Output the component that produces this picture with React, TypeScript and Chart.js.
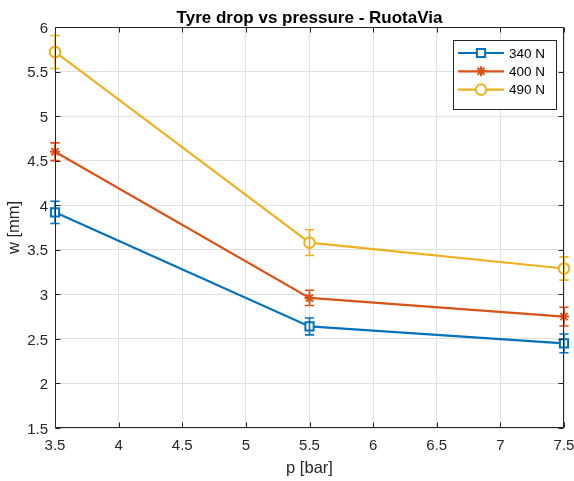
import { useEffect, useRef } from 'react';
import { Chart, registerables } from 'chart.js';

Chart.register(...registerables);

// Tyre drop measurements (mm) per inflation pressure (bar), one series per load
const pressures = [3.5, 5.5, 7.5];
const loadLabels = ['340 N', '400 N', '490 N'];
const drop340 = [3.92, 2.64, 2.45];
const drop400 = [4.6, 2.96, 2.75];
const drop490 = [5.72, 3.58, 3.29];
const err340 = [0.125, 0.095, 0.105];
const err400 = [0.1, 0.085, 0.105];
const err490 = [0.185, 0.145, 0.13];
const xTicks = [3.5, 4, 4.5, 5, 5.5, 6, 6.5, 7, 7.5];
const yTicks = [1.5, 2, 2.5, 3, 3.5, 4, 4.5, 5, 5.5, 6];

const titleText = 'Tyre drop vs pressure - RuotaVia';
const xLabel = 'p [bar]';
const yLabel = 'w [mm]';

const seriesValues = [drop340, drop400, drop490];
const seriesErrors = [err340, err400, err490];
const colors = ['#0072BD', '#D95319', '#EDB120'];
const markers = ['rect', 'star', 'circle'];
const markerRadius = [5.8, 5, 5.3];

const FONT = '"Liberation Sans", Arial, Helvetica, sans-serif';
const INK = '#262626';

function drawMarker(ctx: CanvasRenderingContext2D, style: string, x: number, y: number, r: number, color: string) {
  ctx.save();
  ctx.strokeStyle = color;
  ctx.fillStyle = '#ffffff';
  ctx.lineWidth = 2;
  ctx.beginPath();
  if (style === 'rect') {
    const s = Math.SQRT1_2 * r;
    ctx.rect(x - s, y - s, 2 * s, 2 * s);
    ctx.fill();
    ctx.stroke();
  } else if (style === 'circle') {
    ctx.arc(x, y, r, 0, Math.PI * 2);
    ctx.fill();
    ctx.stroke();
  } else {
    for (let k = 0; k < 4; k++) {
      const a = (k * Math.PI) / 4;
      ctx.moveTo(x - Math.cos(a) * r, y - Math.sin(a) * r);
      ctx.lineTo(x + Math.cos(a) * r, y + Math.sin(a) * r);
    }
    ctx.stroke();
  }
  ctx.restore();
}

const errorBarPlugin = {
  id: 'errorBars',
  afterDatasetsDraw(chart: any) {
    const { ctx } = chart;
    const xs = chart.scales.x;
    const ys = chart.scales.y;
    ctx.save();
    ctx.lineWidth = 1.6;
    seriesValues.forEach((vals, i) => {
      ctx.strokeStyle = colors[i];
      vals.forEach((v, j) => {
        const x = xs.getPixelForValue(pressures[j]);
        const yTop = ys.getPixelForValue(v + seriesErrors[i][j]);
        const yBot = ys.getPixelForValue(v - seriesErrors[i][j]);
        const cap = 4.6;
        ctx.beginPath();
        ctx.moveTo(x, yTop);
        ctx.lineTo(x, yBot);
        ctx.moveTo(x - cap, yTop);
        ctx.lineTo(x + cap, yTop);
        ctx.moveTo(x - cap, yBot);
        ctx.lineTo(x + cap, yBot);
        ctx.stroke();
      });
    });
    ctx.restore();
  },
};

const framePlugin = {
  id: 'frame',
  afterDraw(chart: any) {
    const { ctx, chartArea } = chart;
    const { left, right, top, bottom } = chartArea;
    const xs = chart.scales.x;
    const ys = chart.scales.y;
    ctx.save();

    // axes box with inward ticks on all sides
    ctx.strokeStyle = INK;
    ctx.lineWidth = 1;
    const L = Math.round(left) + 0.5;
    const R = Math.round(right) - 0.5;
    const T = Math.round(top) + 0.5;
    const B = Math.round(bottom) - 0.5;
    ctx.strokeRect(L, T, R - L, B - T);
    const tl = 5;
    ctx.beginPath();
    xTicks.forEach((t) => {
      const x = Math.round(xs.getPixelForValue(t)) + 0.5;
      ctx.moveTo(x, B);
      ctx.lineTo(x, B - tl);
      ctx.moveTo(x, T);
      ctx.lineTo(x, T + tl);
    });
    yTicks.forEach((t) => {
      const y = Math.round(ys.getPixelForValue(t)) + 0.5;
      ctx.moveTo(L, y);
      ctx.lineTo(L + tl, y);
      ctx.moveTo(R, y);
      ctx.lineTo(R - tl, y);
    });
    ctx.stroke();

    // tick labels
    ctx.fillStyle = INK;
    ctx.font = `15px ${FONT}`;
    ctx.textBaseline = 'middle';
    ctx.textAlign = 'center';
    xTicks.forEach((t) => {
      ctx.fillText(String(t), xs.getPixelForValue(t), bottom + 18);
    });
    ctx.textAlign = 'right';
    yTicks.forEach((t) => {
      ctx.fillText(String(t), left - 7, ys.getPixelForValue(t) + 1.5);
    });

    // title and axis labels
    const cx = (left + right) / 2;
    ctx.fillStyle = '#000000';
    ctx.textAlign = 'center';
    ctx.textBaseline = 'alphabetic';
    ctx.font = `bold 17px ${FONT}`;
    ctx.fillText(titleText, cx, 22.5);
    ctx.fillStyle = INK;
    ctx.font = `16.5px ${FONT}`;
    ctx.textBaseline = 'middle';
    ctx.fillText(xLabel, cx, 468);
    ctx.save();
    ctx.translate(14, (top + bottom) / 2);
    ctx.rotate(-Math.PI / 2);
    ctx.fillText(yLabel, 0, 0);
    ctx.restore();

    // legend box
    const bx = 453.5;
    const by = 40.5;
    const bw = 103;
    const bh = 69;
    ctx.fillStyle = '#ffffff';
    ctx.fillRect(bx, by, bw, bh);
    ctx.strokeStyle = INK;
    ctx.lineWidth = 1;
    ctx.strokeRect(bx, by, bw, bh);
    ctx.font = `13.5px ${FONT}`;
    ctx.textAlign = 'left';
    loadLabels.forEach((lab, i) => {
      const ry = 53 + i * 18.3;
      ctx.strokeStyle = colors[i];
      ctx.lineWidth = 2.2;
      ctx.beginPath();
      ctx.moveTo(458, ry);
      ctx.lineTo(504, ry);
      ctx.stroke();
      drawMarker(ctx, markers[i], 481, ry, markerRadius[i], colors[i]);
      ctx.fillStyle = '#000000';
      ctx.fillText(lab, 509, ry + 1);
    });
    ctx.restore();
  },
};

export default function App() {
  const canvasRef = useRef<HTMLCanvasElement | null>(null);

  useEffect(() => {
    const canvas = canvasRef.current;
    if (!canvas) return;
    const chart = new Chart(canvas, {
      type: 'line',
      data: {
        datasets: seriesValues.map((vals, i) => ({
          label: loadLabels[i],
          data: pressures.map((p, j) => ({ x: p, y: vals[j] })),
          borderColor: colors[i],
          backgroundColor: '#ffffff',
          borderWidth: 2.2,
          pointStyle: markers[i] as any,
          pointRadius: markerRadius[i],
          pointBorderWidth: 2,
          pointBorderColor: colors[i],
          pointBackgroundColor: '#ffffff',
          tension: 0,
          fill: false,
          clip: false as any,
        })),
      },
      options: {
        animation: false,
        responsive: false,
        events: [],
        layout: { padding: { top: 27, right: 10, left: 0, bottom: 0 } },
        plugins: {
          legend: { display: false },
          title: { display: false },
          tooltip: { enabled: false },
        },
        scales: {
          x: {
            type: 'linear',
            min: 3.5,
            max: 7.5,
            afterBuildTicks: (scale: any) => {
              scale.ticks = xTicks.map((v) => ({ value: v }));
            },
            afterFit: (scale: any) => {
              scale.height = 53;
            },
            ticks: { display: false },
            grid: { color: '#e0e0e0', drawTicks: false },
            border: { display: false },
          },
          y: {
            type: 'linear',
            min: 1.5,
            max: 6,
            afterBuildTicks: (scale: any) => {
              scale.ticks = yTicks.map((v) => ({ value: v }));
            },
            afterFit: (scale: any) => {
              scale.width = 55;
            },
            ticks: { display: false },
            grid: { color: '#e0e0e0', drawTicks: false },
            border: { display: false },
          },
        },
      },
      plugins: [errorBarPlugin, framePlugin],
    });
    return () => chart.destroy();
  }, []);

  return (
    <div style={{ position: 'fixed', left: 0, top: 0, width: 574, height: 481, background: '#ffffff' }}>
      <canvas ref={canvasRef} width={574} height={481} style={{ display: 'block' }} />
    </div>
  );
}
